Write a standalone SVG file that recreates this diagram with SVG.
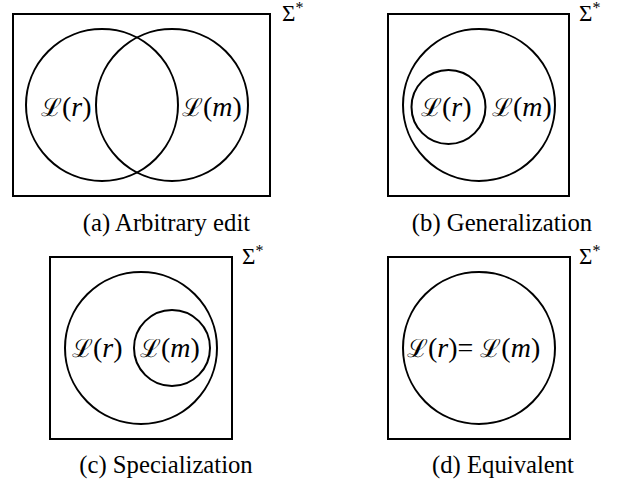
<svg xmlns="http://www.w3.org/2000/svg" width="621" height="487" viewBox="0 0 621 487">
<style>
.box,.set{fill:none;stroke:#000;stroke-width:2}
.sig,.lbl,.cap{font-family:'Liberation Serif','Times New Roman',serif;fill:#000}
.sig{font-size:23px}
.lbl{font-size:28px}
.cal{font-family:'DejaVu Serif',serif;font-size:25px}
.it{font-style:italic}
.cap{font-size:24.7px;text-anchor:middle}
</style>
<rect width="621" height="487" fill="#fff"/>
<g id="panel-a">
  <rect class="box" x="13" y="14" width="257" height="182"/>
  <text class="sig" x="282" y="21">&#931;<tspan font-size="16" dy="-8">*</tspan></text>
  <g id="a-Lr"><circle class="set" cx="102" cy="105" r="76"/><text class="lbl" x="41" y="116"><tspan class="cal">&#8466;</tspan>(<tspan class="it">r</tspan>)</text></g>
  <g id="a-Lm"><circle class="set" cx="172" cy="105" r="76"/><text class="lbl" x="182" y="116"><tspan class="cal">&#8466;</tspan>(<tspan class="it">m</tspan>)</text></g>
  <text class="cap" x="166.5" y="231">(a) Arbitrary edit</text>
</g>
<g id="panel-b">
  <rect class="box" x="388" y="14" width="181" height="182"/>
  <text class="sig" x="579" y="21">&#931;<tspan font-size="16" dy="-8">*</tspan></text>
  <g id="b-Lm"><circle class="set" cx="479" cy="105" r="76"/><text class="lbl" x="492" y="116"><tspan class="cal">&#8466;</tspan>(<tspan class="it">m</tspan>)</text></g>
  <g id="b-Lr"><circle class="set" cx="448.5" cy="107" r="37"/><text class="lbl" x="421" y="116"><tspan class="cal">&#8466;</tspan>(<tspan class="it">r</tspan>)</text></g>
  <text class="cap" x="502" y="231">(b) Generalization</text>
</g>
<g id="panel-c">
  <rect class="box" x="50" y="257" width="182" height="182"/>
  <text class="sig" x="242" y="264">&#931;<tspan font-size="16" dy="-8">*</tspan></text>
  <g id="c-Lr"><circle class="set" cx="141" cy="348" r="76"/><text class="lbl" x="72" y="357"><tspan class="cal">&#8466;</tspan>(<tspan class="it">r</tspan>)</text></g>
  <g id="c-Lm"><circle class="set" cx="172" cy="348" r="38"/><text class="lbl" x="140" y="357"><tspan class="cal">&#8466;</tspan>(<tspan class="it">m</tspan>)</text></g>
  <text class="cap" x="166" y="473">(c) Specialization</text>
</g>
<g id="panel-d">
  <rect class="box" x="388" y="257" width="182" height="182"/>
  <text class="sig" x="579" y="264">&#931;<tspan font-size="16" dy="-8">*</tspan></text>
  <g id="d-Lrm"><circle class="set" cx="479" cy="348" r="76"/><text class="lbl" x="407" y="357"><tspan class="cal">&#8466;</tspan>(<tspan class="it">r</tspan>)= <tspan class="cal">&#8466;</tspan>(<tspan class="it">m</tspan>)</text></g>
  <text class="cap" x="503" y="473">(d) Equivalent</text>
</g>
</svg>
